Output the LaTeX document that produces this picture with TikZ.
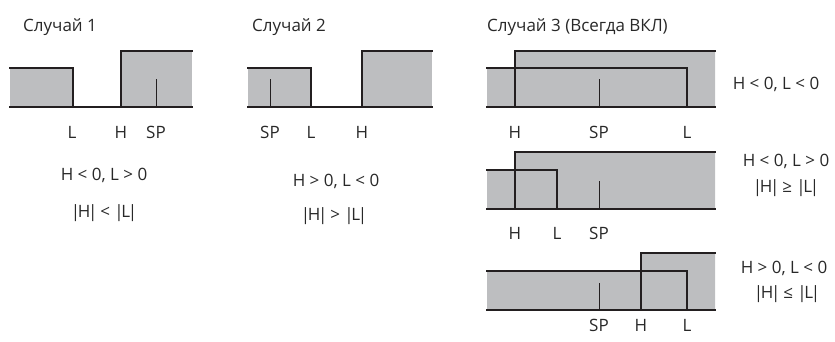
\documentclass[tikz,border=0pt]{standalone}
\usepackage{fontspec}
\setmainfont{Open Sans}
\newcommand{\absval}[1]{|\kern-.14em #1\kern-.14em|}
\newcommand{\relsp}[1]{\hspace{0.18em}#1\hspace{0.24em}}
\begin{document}
\begin{tikzpicture}[x=1pt,y=-1pt,
  fillgray/.style={fill=graybox,draw=none},
  edge/.style={draw=linecol,line width=2.6pt,line cap=rect,line join=miter},
  tickline/.style={draw=linecol,line width=1pt},
  lbl/.style={text=txtcol,font=\fontsize{17}{20}\selectfont,inner sep=0pt,anchor=base},
  ttl/.style={text=txtcol,font=\fontsize{17}{20}\selectfont,inner sep=0pt,anchor=base west}]
\definecolor{graybox}{RGB}{189,190,192}
\definecolor{linecol}{RGB}{35,31,32}
\definecolor{txtcol}{RGB}{40,40,40}
\useasboundingbox (0,0) rectangle (835,341);
% ---------- Case 1
\node[ttl] (t1) at (23,31) {Случай 1};
\fill[fillgray] (10,68) rectangle (73,107);
\fill[fillgray] (121,51) rectangle (192,107);
\draw[edge] (10,68) -- (73,68) -- (73,107);
\draw[edge] (121,107) -- (121,51) -- (192,51);
\draw[edge] (10,107) -- (192,107);
\draw[tickline] (156,79) -- (156,107);
\node[lbl] (c1L) at (72,138) {L};
\node[lbl] (c1H) at (121,138) {H};
\node[lbl] (c1SP) at (156,138) {SP};
\node[lbl] (c1a) at (104,180) {H < 0, L > 0};
\node[lbl] (c1b) at (104,217) {\absval{H}\relsp{<}\absval{L}};
% ---------- Case 2
\node[ttl] (t2) at (252,31) {Случай 2};
\fill[fillgray] (248,68) rectangle (311,107);
\fill[fillgray] (362,51) rectangle (432,107);
\draw[edge] (248,68) -- (311,68) -- (311,107);
\draw[edge] (362,107) -- (362,51) -- (432,51);
\draw[edge] (248,107) -- (432,107);
\draw[tickline] (270,79) -- (270,107);
\node[lbl] (c2SP) at (270,138) {SP};
\node[lbl] (c2L) at (311,138) {L};
\node[lbl] (c2H) at (362,138) {H};
\node[lbl] (c2a) at (336,186) {H > 0, L < 0};
\node[lbl] (c2b) at (334,220) {\absval{H}\relsp{>}\absval{L}};
% ---------- Case 3
\node[ttl] (t3) at (487,31) {Случай 3 (Всегда ВКЛ)};
% panel 1
\fill[fillgray] (487,68) -- (515,68) -- (515,51) -- (715,51) -- (715,107) -- (487,107) -- cycle;
\draw[edge] (487,68) -- (687,68) -- (687,107);
\draw[edge] (515,107) -- (515,51) -- (715,51);
\draw[edge] (487,107) -- (715,107);
\draw[tickline] (599,79) -- (599,107);
\node[lbl] (p1H) at (515,138) {H};
\node[lbl] (p1SP) at (599,138) {SP};
\node[lbl] (p1L) at (687,138) {L};
\node[lbl] (p1a) at (776,89) {H < 0, L < 0};
% panel 2
\fill[fillgray] (487,170) -- (515,170) -- (515,152) -- (715,152) -- (715,209) -- (487,209) -- cycle;
\draw[edge] (487,170) -- (557,170) -- (557,209);
\draw[edge] (515,209) -- (515,152) -- (715,152);
\draw[edge] (487,209) -- (715,209);
\draw[tickline] (599,181) -- (599,209);
\node[lbl] (p2H) at (515,239) {H};
\node[lbl] (p2L) at (557,239) {L};
\node[lbl] (p2SP) at (599,239) {SP};
\node[lbl] (p2a) at (786,166) {H < 0, L > 0};
\node[lbl] (p2b) at (786,192) {\absval{H}\relsp{≥}\absval{L}};
% panel 3
\fill[fillgray] (487,271) -- (641,271) -- (641,253) -- (715,253) -- (715,310) -- (487,310) -- cycle;
\draw[edge] (487,271) -- (687,271) -- (687,310);
\draw[edge] (641,310) -- (641,253) -- (715,253);
\draw[edge] (487,310) -- (715,310);
\draw[tickline] (599,283) -- (599,310);
\node[lbl] (p3SP) at (599,331) {SP};
\node[lbl] (p3H) at (641,331) {H};
\node[lbl] (p3L) at (687,331) {L};
\node[lbl] (p3a) at (784,273) {H > 0, L < 0};
\node[lbl] (p3b) at (787,298) {\absval{H}\relsp{≤}\absval{L}};
\end{tikzpicture}
\end{document}
